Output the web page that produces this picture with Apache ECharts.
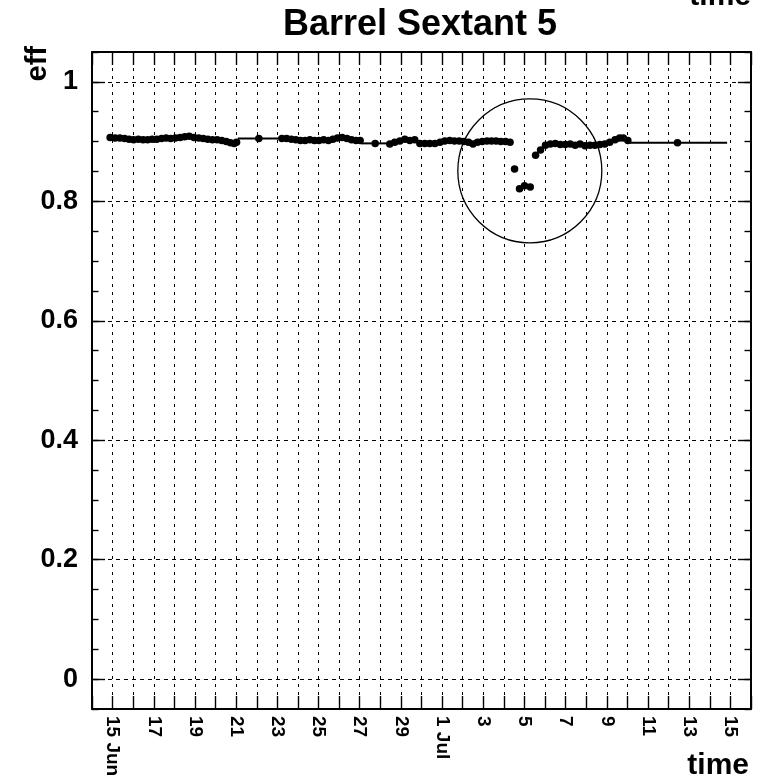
<!DOCTYPE html>
<html>
<head>
<meta charset="utf-8">
<script src="https://cdn.jsdelivr.net/npm/echarts@6/dist/echarts.min.js"></script>
<style>
html,body{margin:0;padding:0;background:#fff;}
#chart{width:770px;height:782px;}
</style>
</head>
<body>
<div id="chart"></div>
<script>
// time in days since 15 Jun 00:00
const dayOffsets = [
  -0.12, 0.12, 0.35, 0.58, 0.80, 1.02, 1.25, 1.48, 1.70, 1.92,
  2.15, 2.38, 2.60, 2.82, 3.05, 3.28, 3.50, 3.72, 3.95, 4.18,
  4.40, 4.62, 4.85, 5.08, 5.30, 5.52, 5.72, 5.90, 6.02,
  7.10,
  8.22, 8.45, 8.68, 8.90, 9.12, 9.35, 9.58, 9.80, 10.02, 10.25,
  10.48, 10.70, 10.92, 11.15, 11.38, 11.60, 11.82, 12.02,
  12.75,
  13.46, 13.70, 13.95, 14.19, 14.43, 14.67, 14.92, 15.16, 15.40, 15.65,
  15.90, 16.13, 16.37, 16.60, 16.83, 17.06, 17.28, 17.50, 17.72, 17.95,
  18.18, 18.40, 18.62, 18.85, 19.08, 19.30,
  19.52, 19.76, 20.00, 20.28, 20.54, 20.78,
  21.02, 21.26, 21.50, 21.74, 21.98, 22.22, 22.46, 22.70, 22.94, 23.18,
  23.42, 23.66, 23.90, 24.14, 24.40, 24.62, 24.80, 25.02,
  27.43
];
const effValues = [
  0.907, 0.906, 0.906, 0.905, 0.904, 0.903, 0.904, 0.903, 0.903, 0.904,
  0.904, 0.905, 0.906, 0.905, 0.906, 0.907, 0.908, 0.909, 0.907, 0.906,
  0.905, 0.904, 0.903, 0.903, 0.902, 0.900, 0.898, 0.897, 0.899,
  0.905,
  0.905, 0.905, 0.904, 0.903, 0.902, 0.902, 0.903, 0.902, 0.902, 0.903,
  0.902, 0.904, 0.906, 0.907, 0.905, 0.903, 0.902, 0.902,
  0.897,
  0.896, 0.899, 0.901, 0.904, 0.902, 0.903, 0.897, 0.897, 0.897, 0.897,
  0.899, 0.901, 0.902, 0.901, 0.901, 0.900, 0.899, 0.896, 0.899, 0.900,
  0.901, 0.901, 0.901, 0.900, 0.900, 0.899,
  0.854, 0.821, 0.826, 0.824, 0.877, 0.886,
  0.894, 0.896, 0.897, 0.895, 0.895, 0.896, 0.894, 0.896, 0.893, 0.894,
  0.894, 0.895, 0.896, 0.899, 0.903, 0.906, 0.906, 0.902,
  0.898
];
// half of each run's duration, in days
const halfWidths = dayOffsets.map(function (d) {
  if (d === 7.10) return 1.02;
  if (d === 12.75) return 0.69;
  if (d === 27.43) return 2.41;
  return 0.1;
});

const xTickDays = [0, 2, 4, 6, 8, 10, 12, 14, 16, 18, 20, 22, 24, 26, 28, 30];
const xTickLabels = ['15 Jun', '17', '19', '21', '23', '25', '27', '29', '1 Jul', '3', '5', '7', '9', '11', '13', '15'];
const yTickValues = [0, 0.2, 0.4, 0.6, 0.8, 1];
const yTickLabels = ['0', '0.2', '0.4', '0.6', '0.8', '1'];

const FONT = "'Liberation Sans', Arial, Helvetica, sans-serif";
const chart = echarts.init(document.getElementById('chart'), null, {renderer: 'canvas'});

const points = dayOffsets.map(function (d, i) { return [d, effValues[i]]; });
const bars = dayOffsets.map(function (d, i) { return [d, effValues[i], halfWidths[i]]; });

function yLabel(v) {
  for (let i = 0; i < yTickValues.length; i++) {
    if (Math.abs(yTickValues[i] - v) < 1e-6) return yTickLabels[i];
  }
  return '';
}
function xLabel(v) {
  const i = xTickDays.indexOf(Math.round(v));
  return i >= 0 ? xTickLabels[i] : '';
}

const frameLine = {show: true, onZero: false, lineStyle: {color: '#000', width: 2}};
const noLine = {show: false, onZero: false};

const xCommon = {type: 'value', min: -1, max: 31, interval: 1};
const yCommon = {type: 'value', min: -0.05, max: 1.05};

chart.setOption({
  animation: false,
  backgroundColor: '#fff',
  grid: {left: 92, right: 19, top: 52, bottom: 73, containLabel: false},
  xAxis: [
    Object.assign({}, xCommon, {
      position: 'bottom',
      axisLine: frameLine,
      axisTick: {show: true, inside: true, length: 13, lineStyle: {color: '#000', width: 1.4}},
      axisLabel: {
        show: true, customValues: xTickDays, formatter: xLabel, rotate: -90, margin: 7,
        color: '#000', fontFamily: FONT, fontWeight: 'bold', fontSize: 19
      },
      splitLine: {show: true, lineStyle: {color: '#000', width: 1, type: [3, 5]}}
    }),
    Object.assign({}, xCommon, {
      position: 'top',
      axisLine: frameLine,
      axisTick: {show: true, inside: true, length: 13, lineStyle: {color: '#000', width: 1.4}},
      axisLabel: {show: false},
      splitLine: {show: false}
    })
  ],
  yAxis: [
    Object.assign({}, yCommon, {
      position: 'left',
      axisLine: frameLine,
      axisTick: {show: true, inside: true, length: 13, customValues: yTickValues, lineStyle: {color: '#000', width: 1.4}},
      axisLabel: {
        show: true, customValues: yTickValues, formatter: yLabel, margin: 14,
        color: '#000', fontFamily: FONT, fontWeight: 'bold', fontSize: 27
      },
      splitLine: {show: true, lineStyle: {color: '#000', width: 1, type: [4, 4]}}
    }),
    Object.assign({}, yCommon, {
      position: 'left', interval: 0.05,
      axisLine: noLine,
      axisTick: {show: true, inside: true, length: 6.5, lineStyle: {color: '#000', width: 1.4}},
      axisLabel: {show: false},
      splitLine: {show: false}
    }),
    Object.assign({}, yCommon, {
      position: 'right',
      axisLine: frameLine,
      axisTick: {show: true, inside: true, length: 13, customValues: yTickValues, lineStyle: {color: '#000', width: 1.4}},
      axisLabel: {show: false},
      splitLine: {show: false}
    }),
    Object.assign({}, yCommon, {
      position: 'right', interval: 0.05,
      axisLine: noLine,
      axisTick: {show: true, inside: true, length: 6.5, lineStyle: {color: '#000', width: 1.4}},
      axisLabel: {show: false},
      splitLine: {show: false}
    })
  ],
  series: [
    {
      type: 'custom',
      xAxisIndex: 0, yAxisIndex: 0,
      data: bars,
      encode: {x: 0, y: 1},
      z: 3,
      renderItem: function (params, api) {
        const x = api.value(0), y = api.value(1), hw = api.value(2);
        const p1 = api.coord([x - hw, y]);
        const p2 = api.coord([x + hw, y]);
        return {
          type: 'line',
          shape: {x1: p1[0], y1: p1[1], x2: p2[0], y2: p2[1]},
          style: {stroke: '#000', lineWidth: 2}
        };
      }
    },
    {
      type: 'scatter',
      xAxisIndex: 0, yAxisIndex: 0,
      data: points,
      symbol: 'circle',
      symbolSize: 7.5,
      itemStyle: {color: '#000', opacity: 1},
      z: 4
    }
  ]
});

// Annotation circle around the dip, placed in data coordinates
const circleCenter = chart.convertToPixel({xAxisIndex: 0, yAxisIndex: 0}, [20.26, 0.851]);

chart.setOption({
  graphic: [
    {type: 'circle', shape: {cx: circleCenter[0], cy: circleCenter[1], r: 72},
     style: {fill: 'none', stroke: '#000', lineWidth: 1.3}, z: 10, silent: true},
    {type: 'text', x: 420, y: 25.5,
     style: {text: 'Barrel Sextant 5', font: 'bold 36px ' + FONT, fill: '#000', align: 'center', verticalAlign: 'middle'}},
    {type: 'text', x: 38, y: 46, rotation: Math.PI / 2,
     style: {text: 'eff', font: 'bold 29px ' + FONT, fill: '#000', align: 'right', verticalAlign: 'middle'}},
    {type: 'text', x: 749, y: 766,
     style: {text: 'time', font: 'bold 30px ' + FONT, fill: '#000', align: 'right', verticalAlign: 'middle'}},
    {type: 'text', x: 751, y: -3.5,
     style: {text: 'time', font: 'bold 30px ' + FONT, fill: '#000', align: 'right', verticalAlign: 'middle'}}
  ]
});
</script>
</body>
</html>
